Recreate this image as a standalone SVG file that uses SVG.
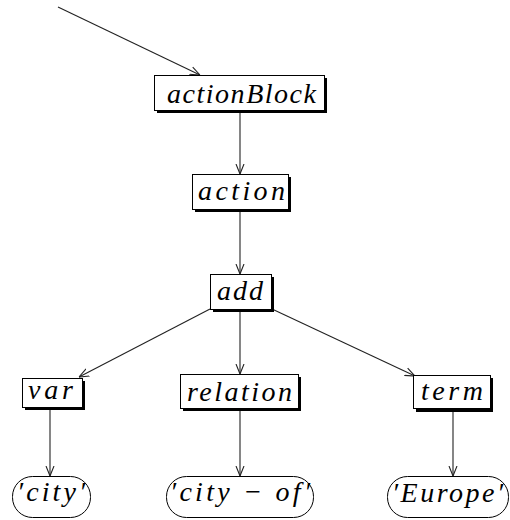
<svg xmlns="http://www.w3.org/2000/svg" width="510" height="520" viewBox="0 0 510 520">
<defs>
<style>
.box{fill:#fff;stroke:#000;stroke-width:1}
.sh{fill:#000}
.ov{fill:#fff;stroke:#000;stroke-width:1}
.t{font-family:"Liberation Serif","Times New Roman",serif;font-style:italic;font-size:28px;fill:#000}
.c{fill:none;stroke:#222;stroke-width:1.1}
</style>
<marker id="ar" viewBox="0 0 10 10" refX="10" refY="5" markerWidth="10" markerHeight="10" markerUnits="userSpaceOnUse" orient="auto">
<path d="M0,1 L10,5 L0,9" fill="none" stroke="#222" stroke-width="1.1"/>
</marker>
</defs>
<rect width="510" height="520" fill="#fff"/>
<g id="connectors">
<line class="c" x1="58" y1="7" x2="200" y2="75" marker-end="url(#ar)"/>
<line class="c" x1="240" y1="113" x2="240" y2="174" marker-end="url(#ar)"/>
<line class="c" x1="240" y1="212" x2="240" y2="274" marker-end="url(#ar)"/>
<line class="c" x1="210" y1="309" x2="79" y2="377" marker-end="url(#ar)"/>
<line class="c" x1="240" y1="312" x2="240" y2="374" marker-end="url(#ar)"/>
<line class="c" x1="272" y1="309" x2="415" y2="376" marker-end="url(#ar)"/>
<line class="c" x1="50" y1="410" x2="50" y2="476" marker-end="url(#ar)"/>
<line class="c" x1="240" y1="411" x2="240" y2="476" marker-end="url(#ar)"/>
<line class="c" x1="453" y1="412" x2="453" y2="476" marker-end="url(#ar)"/>
</g>
<g id="actionBlock">
<rect class="sh" x="157" y="78" width="170" height="35"/>
<rect class="box" x="154.5" y="75.5" width="170" height="35"/>
<text class="t" x="167" y="103" textLength="149" lengthAdjust="spacing">actionBlock</text>
</g>
<g id="action">
<rect class="sh" x="195" y="177" width="96" height="35"/>
<rect class="box" x="192.5" y="174.5" width="96" height="35"/>
<text class="t" x="198" y="200" textLength="87" lengthAdjust="spacing">action</text>
</g>
<g id="add">
<rect class="sh" x="213" y="277" width="61" height="35"/>
<rect class="box" x="210.5" y="274.5" width="61" height="35"/>
<text class="t" x="217" y="300" textLength="46" lengthAdjust="spacing">add</text>
</g>
<g id="var">
<rect class="sh" x="25" y="381" width="60" height="29"/>
<rect class="box" x="22.5" y="378.5" width="60" height="29"/>
<text class="t" x="28" y="399" textLength="45" lengthAdjust="spacing">var</text>
</g>
<g id="relation">
<rect class="sh" x="183" y="377" width="118" height="34"/>
<rect class="box" x="180.5" y="374.5" width="118" height="34"/>
<text class="t" x="187" y="401" textLength="105" lengthAdjust="spacing">relation</text>
</g>
<g id="term">
<rect class="sh" x="416" y="378" width="77" height="34"/>
<rect class="box" x="413.5" y="375.5" width="77" height="33"/>
<text class="t" x="421" y="400" textLength="62" lengthAdjust="spacing">term</text>
</g>
<g id="city">
<rect class="ov" x="12.5" y="476.5" width="78" height="41" rx="20" ry="20"/>
<text class="t" x="17" y="501" textLength="68" lengthAdjust="spacing">′city′</text>
</g>
<g id="city-of">
<rect class="ov" x="166.5" y="476.5" width="147" height="41" rx="20" ry="20"/>
<text class="t" x="170" y="501" textLength="140" lengthAdjust="spacing">′city − of′</text>
</g>
<g id="Europe">
<rect class="ov" x="387.5" y="476.5" width="121" height="41" rx="20" ry="20"/>
<text class="t" x="392" y="502" textLength="111" lengthAdjust="spacing">′Europe′</text>
</g>
</svg>
